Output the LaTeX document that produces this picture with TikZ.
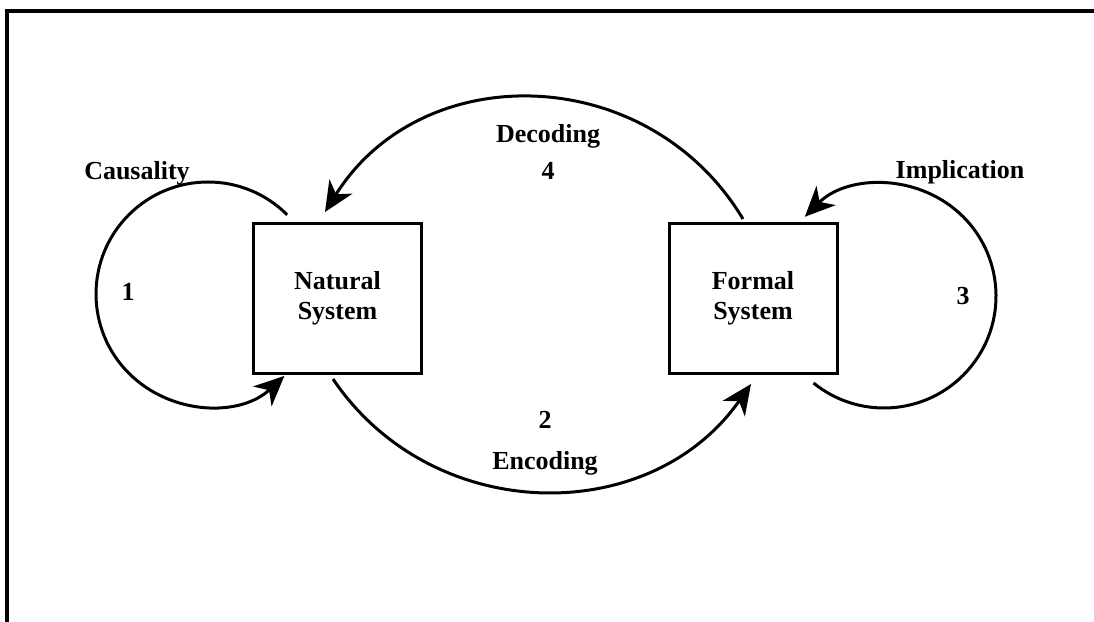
\documentclass[tikz,border=0pt]{standalone}
\usepackage{fontspec}
\setmainfont{Liberation Serif}
\usetikzlibrary{arrows.meta,calc}
\begin{document}
\begin{tikzpicture}[x=1pt,y=1pt,
  sysbox/.style={draw,line width=3pt,minimum width=168pt,minimum height=150pt,
    align=center,font=\fontsize{26}{30}\selectfont\bfseries,inner sep=0pt},
  lbl/.style={font=\fontsize{26}{30}\selectfont\bfseries,inner sep=0pt,anchor=base},
  flow/.style={line width=3pt,-{Stealth[length=30pt,width=27pt,inset=9pt]}}]
\useasboundingbox (0,0) rectangle (1094,621);
\draw[line width=4pt] (7,-3) -- (7,610) -- (1097,610);
% systems
\node[sysbox] (ns) at (337.5,322.5) {Natural\\System};
\node[sysbox] (fs) at (753,322.5) {Formal\\System};
% connector end points
\coordinate (c1s) at ($(208,327)+(45:112)$);
\coordinate (c3s) at ($(884,325)+(231:112)$);
\coordinate (encS) at (333,242);
\coordinate (encE) at (751,237);
\coordinate (decS) at (743,402);
\coordinate (decE) at (325,409);
% loops
\draw[flow] (c1s) arc[start angle=45,end angle=313,radius=112pt];
\draw[flow] (c3s) arc[start angle=231,end angle=495,radius=112pt];
% encoding / decoding
\draw[flow] (encS) to[out=-56,in=235,looseness=1.08] (encE);
\draw[flow] (decS) to[out=121,in=58,looseness=1.12] (decE);
% labels
\node[lbl] (causality) at (137,441) {Causality};
\node[lbl] (one) at (128,320) {1};
\node[lbl] (implication) at (960,442) {Implication};
\node[lbl] (three) at (963,316) {3};
\node[lbl] (decoding) at (548,478) {Decoding};
\node[lbl] (four) at (548,441) {4};
\node[lbl] (two) at (545,192) {2};
\node[lbl] (encoding) at (545,151) {Encoding};
\end{tikzpicture}
\end{document}
